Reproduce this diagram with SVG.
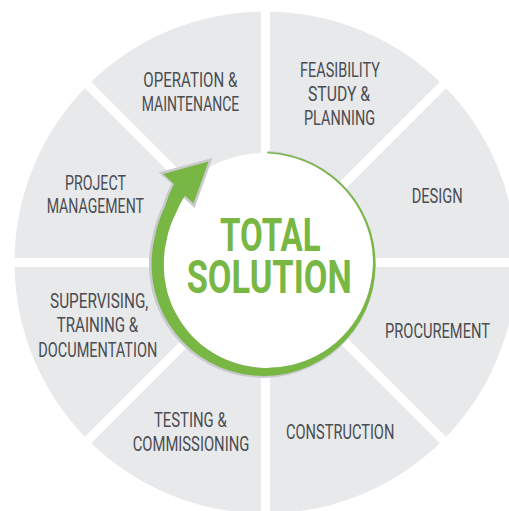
<svg xmlns="http://www.w3.org/2000/svg" width="509" height="511" viewBox="0 0 509 511">
<style>
.seg{fill:#e8e9eb}
.lbl{font-family:"Roboto","Liberation Sans",sans-serif;font-size:21px;fill:#4a4d52;text-anchor:middle}
.big{font-family:"Roboto","Liberation Sans",sans-serif;font-size:46px;font-weight:700;fill:#78b743;text-anchor:middle}
.div{stroke:#ffffff;stroke-width:9}
</style>
<rect width="509" height="511" fill="#ffffff"/>
<g id="feasibility">
<path class="seg" d="M265.5 262.5 L265.5 11.5 A251 251 0 0 1 443 85 Z"/>
<text class="lbl" x="340" y="77.3" textLength="80" lengthAdjust="spacingAndGlyphs">FEASIBILITY</text>
<text class="lbl" x="339" y="100.7" textLength="62" lengthAdjust="spacingAndGlyphs">STUDY &amp;</text>
<text class="lbl" x="339.5" y="125" textLength="71" lengthAdjust="spacingAndGlyphs">PLANNING</text>
</g>
<g id="design">
<path class="seg" d="M265.5 262.5 L443 85 A251 251 0 0 1 516.5 262.5 Z"/>
<text class="lbl" x="437.2" y="202.7" textLength="51" lengthAdjust="spacingAndGlyphs">DESIGN</text>
</g>
<g id="procurement">
<path class="seg" d="M265.5 262.5 L516.5 262.5 A251 251 0 0 1 443 440 Z"/>
<text class="lbl" x="437.5" y="338.3" textLength="105" lengthAdjust="spacingAndGlyphs">PROCUREMENT</text>
</g>
<g id="construction">
<path class="seg" d="M265.5 262.5 L443 440 A251 251 0 0 1 265.5 513.5 Z"/>
<text class="lbl" x="340.2" y="439.3" textLength="108.3" lengthAdjust="spacingAndGlyphs">CONSTRUCTION</text>
</g>
<g id="testing">
<path class="seg" d="M265.5 262.5 L265.5 513.5 A251 251 0 0 1 88 440 Z"/>
<text class="lbl" x="190.3" y="426.7" textLength="72.7" lengthAdjust="spacingAndGlyphs">TESTING &amp;</text>
<text class="lbl" x="191" y="450.7" textLength="116.6" lengthAdjust="spacingAndGlyphs">COMMISSIONING</text>
</g>
<g id="supervising">
<path class="seg" d="M265.5 262.5 L88 440 A251 251 0 0 1 14.5 262.5 Z"/>
<text class="lbl" x="99.2" y="308.3" textLength="98.3" lengthAdjust="spacingAndGlyphs">SUPERVISING,</text>
<text class="lbl" x="97.5" y="332.3" textLength="81.6" lengthAdjust="spacingAndGlyphs">TRAINING &amp;</text>
<text class="lbl" x="97.8" y="356.7" textLength="119" lengthAdjust="spacingAndGlyphs">DOCUMENTATION</text>
</g>
<g id="project">
<path class="seg" d="M265.5 262.5 L14.5 262.5 A251 251 0 0 1 88 85 Z"/>
<text class="lbl" x="95.5" y="190" textLength="61" lengthAdjust="spacingAndGlyphs">PROJECT</text>
<text class="lbl" x="95.3" y="213.3" textLength="97.3" lengthAdjust="spacingAndGlyphs">MANAGEMENT</text>
</g>
<g id="operation">
<path class="seg" d="M265.5 262.5 L88 85 A251 251 0 0 1 265.5 11.5 Z"/>
<text class="lbl" x="190.3" y="87.3" textLength="94" lengthAdjust="spacingAndGlyphs">OPERATION &amp;</text>
<text class="lbl" x="190.5" y="111" textLength="97.6" lengthAdjust="spacingAndGlyphs">MAINTENANCE</text>
</g>
<g id="connectors">
<line class="div" x1="265.5" y1="0" x2="265.5" y2="520"/>
<line class="div" x1="0" y1="262.5" x2="520" y2="262.5"/>
<line class="div" x1="0" y1="-3" x2="520" y2="517"/>
<line class="div" x1="0" y1="528" x2="520" y2="8"/>
</g>
<g id="total-solution">
<circle cx="263.5" cy="264" r="111" fill="#ffffff"/>
<path fill="#c9cacd" d="M267.4 151 A113.5 113.5 0 1 1 152.9 234.4 A116 116 0 0 1 162.6 205.8 A120 120 0 0 1 171.5 183.5 L158.5 172.5 L212.5 158 L194.5 208 L183.1 197.2 A102 102 0 0 0 175.8 213.35 A100 100 0 0 0 166.9 238.1 A100 100 0 0 0 163.7 264 A100 100 0 0 0 166.7 289.9 A100.5 100.5 0 0 0 176.3 314.35 A101 101 0 0 0 191.7 335.8 A102 102 0 0 0 212.35 352.6 A103 103 0 0 0 236.8 363.6 A104 104 0 0 0 263.5 368 A105 105 0 0 0 290.6 365.3 A106 106 0 0 0 316.5 355.8 A107 107 0 0 0 339.2 339.7 A108 108 0 0 0 357 318 A108.5 108.5 0 0 0 368.6 292.2 A109 109 0 0 0 373 264 A109.5 109.5 0 0 0 369.6 235.6 A110 110 0 0 0 358.8 209 A110 110 0 0 0 341.4 186.1 A110.3 110.3 0 0 0 318.7 168.4 A110.5 110.5 0 0 0 292.1 157.2 A110.7 110.7 0 0 0 267.4 153.3 Z"/>
<path fill="#78b743" d="M267.4 152.1 A112 112 0 1 1 155.3 235 A114 114 0 0 1 164.8 207 A118 118 0 0 1 174 184 L163 174 L208.5 161.5 L193.5 203.5 L185 195.5 A102 102 0 0 0 175.8 213.35 A100 100 0 0 0 166.9 238.1 A100 100 0 0 0 163.7 264 A100 100 0 0 0 166.7 289.9 A100.5 100.5 0 0 0 176.3 314.35 A101 101 0 0 0 191.7 335.8 A102 102 0 0 0 212.35 352.6 A103 103 0 0 0 236.8 363.6 A104 104 0 0 0 263.5 368 A105 105 0 0 0 290.6 365.3 A106 106 0 0 0 316.5 355.8 A107 107 0 0 0 339.2 339.7 A108 108 0 0 0 357 318 A108.5 108.5 0 0 0 368.6 292.2 A109 109 0 0 0 373 264 A109.5 109.5 0 0 0 369.6 235.6 A110 110 0 0 0 358.8 209 A110 110 0 0 0 341.4 186.1 A110.3 110.3 0 0 0 318.7 168.4 A110.5 110.5 0 0 0 292.1 157.2 A110.7 110.7 0 0 0 267.4 153.3 Z"/>
<text class="big" x="270.3" y="250.7" textLength="100.7" lengthAdjust="spacingAndGlyphs">TOTAL</text>
<text class="big" x="269.2" y="293.3" textLength="165" lengthAdjust="spacingAndGlyphs">SOLUTION</text>
</g>
</svg>
